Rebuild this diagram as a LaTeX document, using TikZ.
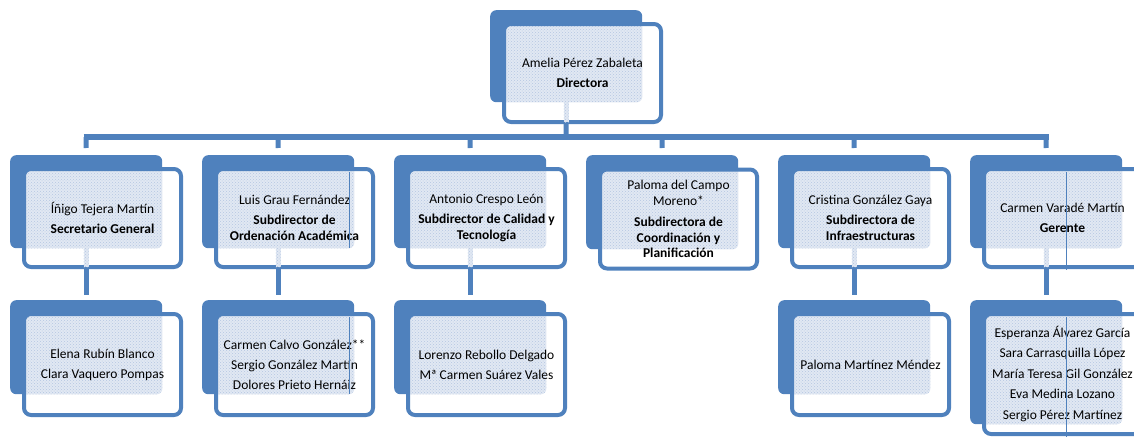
\documentclass[tikz,border=0pt]{standalone}
\usepackage{fontspec}
\setmainfont{Carlito}
\usetikzlibrary{patterns,calc}
\definecolor{obl}{HTML}{4F81BD}
\definecolor{pfill}{HTML}{E1E8F3}
\definecolor{pdot}{HTML}{B4C7E1}
\tikzset{
  backbox/.style={fill=obl, rounded corners=6pt, minimum width=152pt, inner sep=0pt, anchor=north west},
  frontbox/.style={draw=obl, line width=4pt, fill=white, rounded corners=7pt, minimum width=157pt, inner sep=0pt, align=center, text=black, font=\fontsize{13.5}{15.5}\selectfont},
  conn/.style={draw=obl, line width=5pt},
  barline/.style={draw=obl, line width=6.5pt},
  patt/.style={fill=pfill, postaction={pattern=crosshatch dots, pattern color=pdot}},
  thinl/.style={draw=obl, line width=0.8pt},
}
% #1 id, #2 L, #3 T, #4 back height, #5 front height, #6 front centre offset, #7 text
\newcommand\orgunit[7]{%
  \node[backbox, minimum height=#4pt] (b#1) at (#2,#3) {};
  \node[frontbox, minimum height=#5pt,
        path picture={\fill[patt, rounded corners=6pt] (b#1.north west) rectangle (b#1.south east);}]
        (f#1) at ({#2+92.5},{#3+#6}) {#7};
}
\newcommand\seestub[1]{%
  \fill[patt] ($(b#1.south)+(-2.5pt,0pt)$) rectangle ($(b#1.south |- f#1.south)+(2.5pt,2pt)$);
}
\begin{document}
\begin{tikzpicture}[x=1pt,y=-1pt]
\useasboundingbox (0,0) rectangle (1134,439);
% top
\orgunit{0}{490}{10}{92}{98}{63}{Amelia Pérez Zabaleta\\[4.5pt]\textbf{Directora}}
% second row
\orgunit{1}{10}{155}{93}{98}{63}{Íñigo Tejera Martín\\[4.5pt]\textbf{Secretario General}}
\orgunit{2}{202}{155}{93}{98}{63}{Luis Grau Fernández\\[4.5pt]\textbf{Subdirector de}\\\textbf{Ordenación Académica}}
\orgunit{3}{394}{155}{93}{98}{63}{Antonio Crespo León\\[4.5pt]\textbf{Subdirector de Calidad y}\\\textbf{Tecnología}}
\orgunit{4}{586}{155}{94}{99}{64}{Paloma del Campo\\Moreno*\\[6pt]\textbf{Subdirectora de}\\\textbf{Coordinación y}\\\textbf{Planificación}}
\orgunit{5}{778}{155}{93}{98}{63}{Cristina González Gaya\\[4.5pt]\textbf{Subdirectora de}\\\textbf{Infraestructuras}}
\orgunit{6}{970}{155}{93}{98}{63}{Carmen Varadé Martín\\[4.5pt]\textbf{Gerente}}
% third row
\orgunit{11}{10}{300}{94}{101}{64.5}{Elena Rubín Blanco\\[4.5pt]Clara Vaquero Pompas}
\orgunit{12}{202}{300}{94}{101}{64.5}{Carmen Calvo González**\\[4.5pt]Sergio González Martín\\[4.5pt]Dolores Prieto Hernáiz}
\orgunit{13}{394}{300}{94}{101}{64.5}{Lorenzo Rebollo Delgado\\[4.5pt]Mª Carmen Suárez Vales}
\orgunit{15}{778}{300}{94}{101}{64.5}{Paloma Martínez Méndez}
\orgunit{16}{970}{300}{124}{120}{74}{Esperanza Álvarez García\\[5pt]Sara Carrasquilla López\\[5pt]María Teresa Gil González\\[5pt]Eva Medina Lozano\\[5pt]Sergio Pérez Martínez}
% stubs seen through the front boxes
\seestub{0}\seestub{1}\seestub{2}\seestub{3}\seestub{5}\seestub{6}
% thin lines
\draw[thinl] (349,172) -- (349,248);
\draw[thinl] (349,317) -- (349,394);
\draw[thinl] (1066,172) -- (1066,270);
\draw[thinl] (1066,317) -- (1066,437);
% connectors
\coordinate (j0) at (566,137);
\coordinate (j1) at (86,137);
\coordinate (j2) at (278,137);
\coordinate (j3) at (470,137);
\coordinate (j4) at (662,137);
\coordinate (j5) at (854,137);
\coordinate (j6) at (1046,137);
\draw[barline, shorten <=-2.5pt, shorten >=-2.5pt] (j1) -- (j6);
\draw[conn] (b0.south |- f0.south) -- (j0);
\foreach \i in {1,...,6}{
  \draw[conn] (j\i) -- ([yshift=7pt]b\i.north);
}
\foreach \i in {1,2,3,5,6}{
  \draw[conn] (b\i.south |- f\i.south) -- ([yshift=5pt]b1\i.north);
}
\end{tikzpicture}
\end{document}
